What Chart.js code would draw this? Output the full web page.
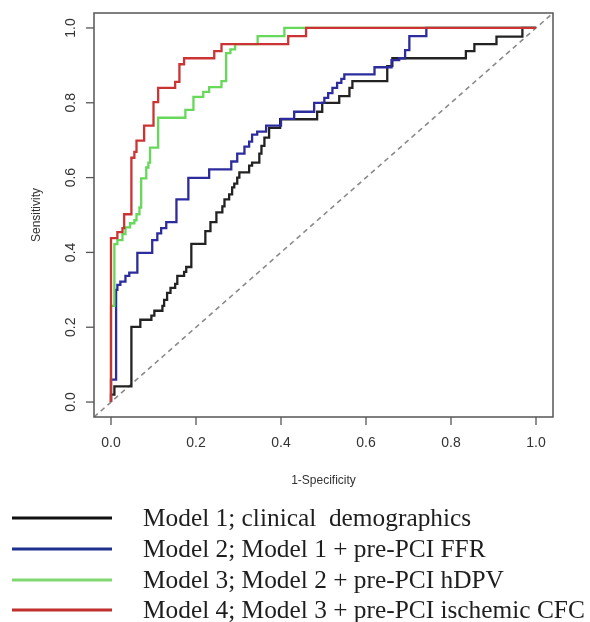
<!DOCTYPE html>
<html><head><meta charset="utf-8">
<script src="https://cdn.jsdelivr.net/npm/chart.js@4.4.1/dist/chart.umd.min.js"></script>
<style>html,body{margin:0;padding:0;background:#fff;overflow:hidden}</style>
</head><body>
<canvas id="c" width="590" height="622" style="display:block;width:590px;height:622px"></canvas>
<script>
// ---- data ----
const xTicks = [0, 0.2, 0.4, 0.6, 0.8, 1.0];
const yTicks = [0, 0.2, 0.4, 0.6, 0.8, 1.0];
const tickLabels = ["0.0", "0.2", "0.4", "0.6", "0.8", "1.0"];
const xTitle = "1-Specificity";
const yTitle = "Sensitivity";
const seriesLabels = [
  "Model 1; clinical  demographics",
  "Model 2; Model 1 + pre-PCI FFR",
  "Model 3; Model 2 + pre-PCI hDPV",
  "Model 4; Model 3 + pre-PCI ischemic CFC"
];
const seriesColors = ["#222222", "#2c2c9c", "#66d85a", "#cc3434"];
const legendColors = ["#111111", "#1f2f8e", "#7fd870", "#c0302e"];

// Model 1 (black)
const fpr1 = [0,0,0.008,0.008,0.048,0.048,0.069,0.069,0.095,0.095,0.102,0.102,0.121,0.121,0.125,0.125,0.132,0.132,0.140,0.140,0.151,0.151,0.156,0.156,0.172,0.172,0.177,0.177,0.189,0.189,0.222,0.222,0.234,0.234,0.248,0.248,0.262,0.262,0.267,0.267,0.278,0.278,0.285,0.285,0.290,0.290,0.297,0.297,0.302,0.302,0.325,0.325,0.332,0.332,0.349,0.349,0.354,0.354,0.361,0.361,0.372,0.372,0.398,0.398,0.485,0.485,0.497,0.497,0.537,0.537,0.561,0.561,0.568,0.568,0.650,0.650,0.662,0.662,0.835,0.835,0.855,0.855,0.907,0.907,0.968,0.968,1.0];
const tpr1 = [0,0.020,0.020,0.042,0.042,0.201,0.201,0.220,0.220,0.231,0.231,0.244,0.244,0.257,0.257,0.273,0.273,0.292,0.292,0.305,0.305,0.316,0.316,0.337,0.337,0.348,0.348,0.361,0.361,0.423,0.423,0.457,0.457,0.481,0.481,0.507,0.507,0.523,0.523,0.542,0.542,0.555,0.555,0.574,0.574,0.584,0.584,0.600,0.600,0.614,0.614,0.632,0.632,0.640,0.640,0.664,0.664,0.685,0.685,0.707,0.707,0.733,0.733,0.756,0.756,0.776,0.776,0.800,0.800,0.818,0.818,0.840,0.840,0.858,0.858,0.898,0.898,0.919,0.919,0.938,0.938,0.957,0.957,0.977,0.977,1.0,1.0];

// Model 2 (blue)
const fpr2 = [0,0,0.012,0.012,0.015,0.015,0.022,0.022,0.034,0.034,0.043,0.043,0.062,0.062,0.097,0.097,0.109,0.109,0.118,0.118,0.130,0.130,0.154,0.154,0.182,0.182,0.231,0.231,0.283,0.283,0.297,0.297,0.314,0.314,0.325,0.325,0.332,0.332,0.344,0.344,0.365,0.365,0.400,0.400,0.431,0.431,0.478,0.478,0.502,0.502,0.511,0.511,0.521,0.521,0.532,0.532,0.542,0.542,0.549,0.549,0.620,0.620,0.660,0.660,0.678,0.678,0.692,0.692,0.702,0.702,0.742,0.742,1.0];
const tpr2 = [0,0.060,0.060,0.300,0.300,0.313,0.313,0.322,0.322,0.337,0.337,0.346,0.346,0.399,0.399,0.433,0.433,0.451,0.451,0.465,0.465,0.481,0.481,0.542,0.542,0.599,0.599,0.622,0.622,0.643,0.643,0.664,0.664,0.683,0.683,0.696,0.696,0.715,0.715,0.723,0.723,0.739,0.739,0.757,0.757,0.776,0.776,0.800,0.800,0.813,0.813,0.826,0.826,0.840,0.840,0.853,0.853,0.864,0.864,0.876,0.876,0.895,0.895,0.914,0.914,0.919,0.919,0.941,0.941,0.978,0.978,1.0,1.0];

// Model 3 (green)
const fpr3 = [0,0,0.008,0.008,0.015,0.015,0.027,0.027,0.034,0.034,0.045,0.045,0.055,0.055,0.060,0.060,0.067,0.067,0.071,0.071,0.083,0.083,0.088,0.088,0.092,0.092,0.111,0.111,0.175,0.175,0.194,0.194,0.217,0.217,0.231,0.231,0.260,0.260,0.271,0.271,0.281,0.281,0.292,0.292,0.345,0.345,0.408,0.408,1.0];
const tpr3 = [0,0.257,0.257,0.422,0.422,0.433,0.433,0.449,0.449,0.467,0.467,0.478,0.478,0.486,0.486,0.502,0.502,0.520,0.520,0.598,0.598,0.627,0.627,0.640,0.640,0.680,0.680,0.760,0.760,0.781,0.781,0.816,0.816,0.829,0.829,0.842,0.842,0.858,0.858,0.933,0.933,0.943,0.943,0.957,0.957,0.978,0.978,1.0,1.0];

// Model 4 (red)
const fpr4 = [0,0,0.015,0.015,0.027,0.027,0.031,0.031,0.048,0.048,0.055,0.055,0.060,0.060,0.078,0.078,0.100,0.100,0.111,0.111,0.151,0.151,0.161,0.161,0.172,0.172,0.243,0.243,0.260,0.260,0.417,0.417,0.459,0.459,1.0];
const tpr4 = [0,0.438,0.438,0.454,0.454,0.465,0.465,0.502,0.502,0.653,0.653,0.669,0.669,0.699,0.699,0.739,0.739,0.802,0.802,0.840,0.840,0.856,0.856,0.903,0.903,0.919,0.919,0.938,0.938,0.957,0.957,0.978,0.978,1.0,1.0];

// reference diagonal
const diagX = [-0.04, 1.04];
const diagY = [-0.04, 1.04];
const axisMin = -0.04, axisMax = 1.04;

// ---- build chart ----
const pts = (xs, ys) => xs.map((v, i) => ({x: v, y: ys[i]}));
const series = [[fpr1,tpr1],[fpr2,tpr2],[fpr3,tpr3],[fpr4,tpr4]];
const datasets = series.map((s, i) => ({
  label: seriesLabels[i],
  data: pts(s[0], s[1]),
  borderColor: seriesColors[i],
  borderWidth: 2.3,
  showLine: true, pointRadius: 0, tension: 0, fill: false,
  order: 3 - i
}));
datasets.push({
  label: "diagonal", data: pts(diagX, diagY), borderColor: "#8a8a8a",
  borderWidth: 1.6, borderDash: [5, 4], showLine: true, pointRadius: 0, order: 10
});

const SANS = '"Liberation Sans", Arial, sans-serif';
const SERIF = '"Liberation Serif", "Times New Roman", serif';

const decor = {
  id: 'decor',
  afterDraw(chart) {
    const {ctx, chartArea: a, scales: {x, y}} = chart;
    ctx.save();
    // box
    ctx.strokeStyle = '#555'; ctx.lineWidth = 1.5;
    ctx.strokeRect(a.left, a.top, a.right - a.left, a.bottom - a.top);
    // ticks + labels
    ctx.lineWidth = 1.3; ctx.strokeStyle = '#555';
    ctx.fillStyle = '#333'; ctx.font = '14px ' + SANS;
    ctx.textAlign = 'center'; ctx.textBaseline = 'middle';
    xTicks.forEach((v, i) => {
      const px = x.getPixelForValue(v);
      ctx.beginPath(); ctx.moveTo(px, a.bottom); ctx.lineTo(px, a.bottom + 8); ctx.stroke();
      ctx.fillText(tickLabels[i], px, a.bottom + 26);
    });
    yTicks.forEach((v, i) => {
      const py = y.getPixelForValue(v);
      ctx.beginPath(); ctx.moveTo(a.left, py); ctx.lineTo(a.left - 8, py); ctx.stroke();
      ctx.save(); ctx.translate(a.left - 23, py); ctx.rotate(-Math.PI / 2);
      ctx.fillText(tickLabels[i], 0, 0); ctx.restore();
    });
    // axis titles
    ctx.font = '12px ' + SANS;
    ctx.fillText(xTitle, (a.left + a.right) / 2, 481);
    ctx.save(); ctx.translate(37, (a.top + a.bottom) / 2); ctx.rotate(-Math.PI / 2);
    ctx.fillText(yTitle, 0, 0); ctx.restore();
    // legend
    ctx.font = '24px ' + SERIF;
    const w = ctx.measureText(seriesLabels[3]).width;
    const fs = 24 * 442 / w;
    ctx.font = fs.toFixed(2) + 'px ' + SERIF;
    ctx.textAlign = 'left'; ctx.textBaseline = 'middle'; ctx.fillStyle = '#1e1e1e';
    const ys = [518, 549, 580, 610];
    seriesLabels.forEach((lab, i) => {
      ctx.strokeStyle = legendColors[i]; ctx.lineWidth = 3;
      ctx.beginPath(); ctx.moveTo(12, ys[i]); ctx.lineTo(112, ys[i]); ctx.stroke();
      ctx.fillText(lab, 143, ys[i] + 1);
    });
    ctx.restore();
  }
};

new Chart(document.getElementById('c'), {
  type: 'scatter',
  data: {datasets},
  options: {
    responsive: false, animation: false, devicePixelRatio: 1,
    layout: {padding: {left: 94, right: 37, top: 13, bottom: 205}},
    plugins: {legend: {display: false}, tooltip: {enabled: false}},
    scales: {
      x: {type: 'linear', min: axisMin, max: axisMax, display: false},
      y: {type: 'linear', min: axisMin, max: axisMax, display: false}
    }
  },
  plugins: [decor]
});
</script>
</body></html>
